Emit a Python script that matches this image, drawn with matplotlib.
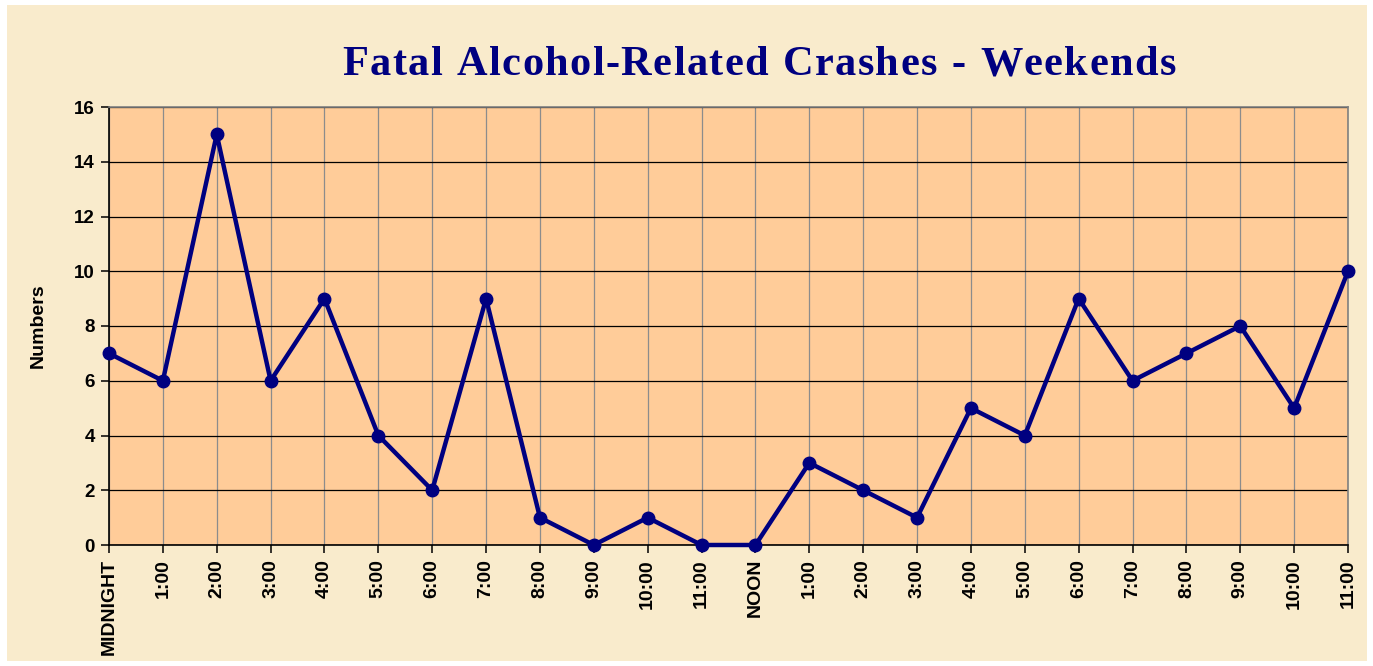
import matplotlib
matplotlib.use('Agg')
import matplotlib.pyplot as plt
from matplotlib.patches import Rectangle

# hours of the day, midnight through 11 PM
hours = ['MIDNIGHT', '1:00', '2:00', '3:00', '4:00', '5:00', '6:00', '7:00',
         '8:00', '9:00', '10:00', '11:00', 'NOON', '1:00', '2:00', '3:00',
         '4:00', '5:00', '6:00', '7:00', '8:00', '9:00', '10:00', '11:00']
crashes = [7, 6, 15, 6, 9, 4, 2, 9, 1, 0, 1, 0,
           0, 3, 2, 1, 5, 4, 9, 6, 7, 8, 5, 10]
y_ticks = [0, 2, 4, 6, 8, 10, 12, 14, 16]
title = 'Fatal Alcohol-Related Crashes - Weekends'

navy = '#000080'
W, H = 1373, 666

fig = plt.figure(figsize=(W / 100, H / 100), dpi=100)
fig.patch.set_facecolor('white')

# parchment panel behind everything
fig.patches.append(Rectangle((7 / W, 5 / H), 1360 / W, 656 / H,
                             transform=fig.transFigure, facecolor='#F9EBCC',
                             edgecolor='none', zorder=-5))

ax = fig.add_axes([109 / W, 1 - 545 / H, 1239 / W, 438 / H])
ax.set_facecolor('#FFCC99')

x = list(range(len(hours)))
ax.plot(x, crashes, color=navy, lw=3.2, marker='o', markersize=9,
        markerfacecolor=navy, markeredgecolor=navy, zorder=3,
        clip_on=False)

ax.set_xlim(0, len(hours) - 1)
ax.set_ylim(0, 16)
ax.set_yticks(y_ticks)
ax.set_xticks(x)
ax.set_xticklabels(hours, rotation=90, fontsize=14, fontweight='bold',
                   family='Liberation Sans')
for lbl in ax.get_yticklabels():
    lbl.set_fontsize(13.5)
    lbl.set_fontweight('bold')
    lbl.set_family('Liberation Sans')

ax.grid(axis='y', color='black', lw=0.9)
ax.grid(axis='x', color='#8C8C8C', lw=0.9)
ax.set_axisbelow(True)

for s in ['top', 'right']:
    ax.spines[s].set_color('#808080')
    ax.spines[s].set_linewidth(1.2)
for s in ['left', 'bottom']:
    ax.spines[s].set_color('black')
    ax.spines[s].set_linewidth(1.2)
ax.tick_params(axis='both', direction='out', length=6, width=1.1,
               color='black', pad=4)

ax.set_ylabel('Numbers', fontsize=14, fontweight='bold',
              family='Liberation Sans', labelpad=20)

# title with wide letter spacing, laid out character by character
title_kw = dict(fontsize=30.5, fontweight='bold', family='Liberation Serif',
                color=navy, va='baseline', ha='left')
renderer = fig.canvas.get_renderer()
tracking = 1.4
widths = []
for ch in title:
    t = fig.text(0, 0, ch if ch != ' ' else 'i', **title_kw)
    widths.append(t.get_window_extent(renderer).width)
    t.remove()
total = sum(widths) + tracking * (len(title) - 1)
xpos = 759 - total / 2
for ch, w in zip(title, widths):
    if ch != ' ':
        fig.text(xpos / W, 1 - 75 / H, ch, **title_kw)
    xpos += w + tracking

fig.savefig('out.png', dpi=100, facecolor=fig.get_facecolor())
